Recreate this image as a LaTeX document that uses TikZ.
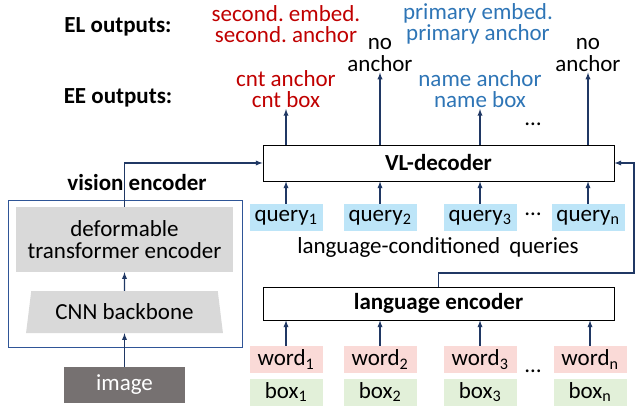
\documentclass[tikz,border=0pt]{standalone}
\usepackage{fontspec}
\setmainfont{Carlito}
\usetikzlibrary{shapes.geometric}

\definecolor{navy}{HTML}{203864}
\definecolor{visblue}{HTML}{2F5597}
\definecolor{outred}{HTML}{C00000}
\definecolor{outblue}{HTML}{2E75B6}
\definecolor{qblue}{HTML}{BDE5F8}
\definecolor{wpink}{HTML}{FADAD7}
\definecolor{bgreen}{HTML}{E2F0D9}
\definecolor{encgray}{HTML}{D9D9D9}
\definecolor{imggray}{HTML}{767171}

\tikzset{
  token/.style={minimum width=73pt, minimum height=27pt, inner sep=0pt},
  block/.style={draw, line width=0.8pt, minimum width=351pt, inner sep=0pt, font=\bfseries},
  flow/.style={->, line width=1.3pt, navy},
  outtext/.style={align=center, inner sep=1pt},
}

\begin{document}
\frenchspacing
\fontsize{23}{21.5}\selectfont
\begin{tikzpicture}[x=1pt, y=-1pt, >=latex]
\useasboundingbox (0, 0) rectangle (636, 411);

% vision side
\draw [visblue, line width=1pt] (8, 201) rectangle (242, 347);
\node [font=\bfseries] (vislabel) at (137, 183) {vision encoder};
\node [fill=encgray, minimum width=217pt, minimum height=65pt, align=center, inner sep=0pt] (defenc) at (124.5, 239.5) {deformable\\transformer encoder};
\node [trapezium, trapezium stretches=true, trapezium angle=76.6, fill=encgray, minimum width=197pt, minimum height=42pt, inner sep=0pt] (cnn) at (124.5, 312) {CNN backbone};
\node [fill=imggray, text=white, minimum width=121pt, minimum height=36pt, inner sep=0pt] (img) at (124.5, 385) {image};

% encoder / decoder blocks
\node [block, minimum height=36pt] (vldec) at (438.5, 163) {VL-decoder};
\node [block, minimum height=33pt] (langenc) at (438.5, 303.5) {language encoder};

% queries
\node [token, fill=qblue] (q1) at (286, 217.5) {query\textsubscript{1}};
\node [token, fill=qblue] (q2) at (380, 217.5) {query\textsubscript{2}};
\node [token, fill=qblue] (q3) at (480, 217.5) {query\textsubscript{3}};
\node [token, fill=qblue] (qn) at (588, 217.5) {query\textsubscript{n}};
\node (qdots) at (533, 214) {\dots};
\node (qlabel) at (438, 247) {language-conditioned\, queries};

% words and boxes
\node [token, fill=wpink] (w1) at (286, 359.5) {word\textsubscript{1}};
\node [token, fill=wpink] (w2) at (380, 359.5) {word\textsubscript{2}};
\node [token, fill=wpink] (w3) at (480, 359.5) {word\textsubscript{3}};
\node [token, fill=wpink] (wn) at (590, 359.5) {word\textsubscript{n}};
\node [token, fill=bgreen] (b1) at (286, 392) {box\textsubscript{1}};
\node [token, fill=bgreen] (b2) at (380, 392) {box\textsubscript{2}};
\node [token, fill=bgreen] (b3) at (480, 392) {box\textsubscript{3}};
\node [token, fill=bgreen] (bn) at (590, 392) {box\textsubscript{n}};
\node (wdots) at (533, 371) {\dots};

% outputs
\node [font=\bfseries] (ellabel) at (118, 27) {EL outputs:};
\node [font=\bfseries] (eelabel) at (118, 98) {EE outputs:};
\node [outtext, outred] (el1) at (286, 24) {second. embed.\\second. anchor};
\node [outtext, outblue] (el3) at (478, 24) {primary embed.\\primary anchor};
\node [outtext, outred] (ee1) at (286, 89) {cnt anchor\\cnt box};
\node [outtext] (ee2) at (380, 55) {no\\anchor};
\node [outtext, outblue] (ee3) at (480, 89) {name anchor\\name box};
\node [outtext] (een) at (588, 55) {no\\anchor};
\node (odots) at (533, 124) {\dots};

% connectors
\draw [flow] (img) -- (cnn);
\draw [flow] (cnn) -- (defenc);
\draw [flow] (defenc.north) |- (vldec.west);
\coordinate (fb) at (634, 273);
\draw [flow] (langenc.north) |- (fb) |- (vldec.east);

\draw [flow] (q1) -- (q1 |- vldec.south);
\draw [flow] (q2) -- (q2 |- vldec.south);
\draw [flow] (q3) -- (q3 |- vldec.south);
\draw [flow] (qn) -- (qn |- vldec.south);

\draw [flow] (w1) -- (w1 |- langenc.south);
\draw [flow] (w2) -- (w2 |- langenc.south);
\draw [flow] (w3) -- (w3 |- langenc.south);
\draw [flow] (wn) -- (wn |- langenc.south);

\draw [flow] (ee1 |- vldec.north) -- (ee1);
\draw [flow] (ee2 |- vldec.north) -- (ee2);
\draw [flow] (ee3 |- vldec.north) -- (ee3);
\draw [flow] (een |- vldec.north) -- (een);
\end{tikzpicture}
\end{document}
